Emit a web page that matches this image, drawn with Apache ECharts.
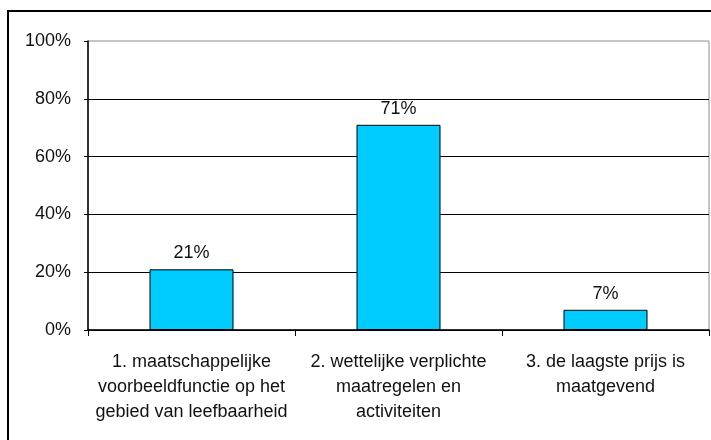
<!DOCTYPE html>
<html>
<head>
<meta charset="utf-8">
<script src="https://cdn.jsdelivr.net/npm/echarts@6/dist/echarts.min.js"></script>
<style>
  html, body { margin: 0; padding: 0; background: #fff; }
  #chart { width: 711px; height: 440px; }
</style>
</head>
<body>
<div id="chart"></div>
<script>
// categorieën en percentages
const categories = [
  '1. maatschappelijke\nvoorbeeldfunctie op het\ngebied van leefbaarheid',
  '2. wettelijke verplichte\nmaatregelen en\nactiviteiten',
  '3. de laagste prijs is\nmaatgevend'
];
const values = [21, 71, 7];

const chart = echarts.init(document.getElementById('chart'));

const font = 'Liberation Sans, Arial, sans-serif';

const option = {
  animation: false,
  backgroundColor: '#fff',
  graphic: [
    {
      type: 'rect',
      shape: { x: 8, y: 11, width: 760, height: 480 },
      style: { fill: 'none', stroke: '#000', lineWidth: 2 },
      silent: true
    }
  ],
  grid: {
    left: 88, right: 2, top: 41, bottom: 110,
    show: true,
    borderColor: '#8c8c8c',
    borderWidth: 1,
    backgroundColor: 'transparent'
  },
  xAxis: {
    type: 'category',
    data: categories,
    axisLine: { lineStyle: { color: '#000', width: 1.5 } },
    axisTick: { show: true, length: 6, lineStyle: { color: '#000' } },
    axisLabel: {
      interval: 0,
      color: '#111',
      fontFamily: font,
      fontSize: 18,
      lineHeight: 25,
      margin: 20
    }
  },
  yAxis: {
    type: 'value',
    min: 0,
    max: 100,
    interval: 20,
    axisLine: { show: true, lineStyle: { color: '#000', width: 1.5 } },
    axisTick: { show: true, length: 4, lineStyle: { color: '#000' } },
    axisLabel: {
      formatter: '{value}%',
      color: '#111',
      fontFamily: font,
      fontSize: 18,
      margin: 17
    },
    splitLine: { show: true, showMaxLine: false, lineStyle: { color: '#000', width: 1 } }
  },
  series: [
    {
      type: 'bar',
      data: values,
      barWidth: 84,
      itemStyle: { color: '#00CCFF', borderColor: '#000', borderWidth: 1 },
      label: {
        show: true,
        position: 'top',
        distance: 7,
        formatter: '{c}%',
        color: '#111',
        fontFamily: font,
        fontSize: 18
      }
    }
  ]
};

chart.setOption(option);
</script>
</body>
</html>
